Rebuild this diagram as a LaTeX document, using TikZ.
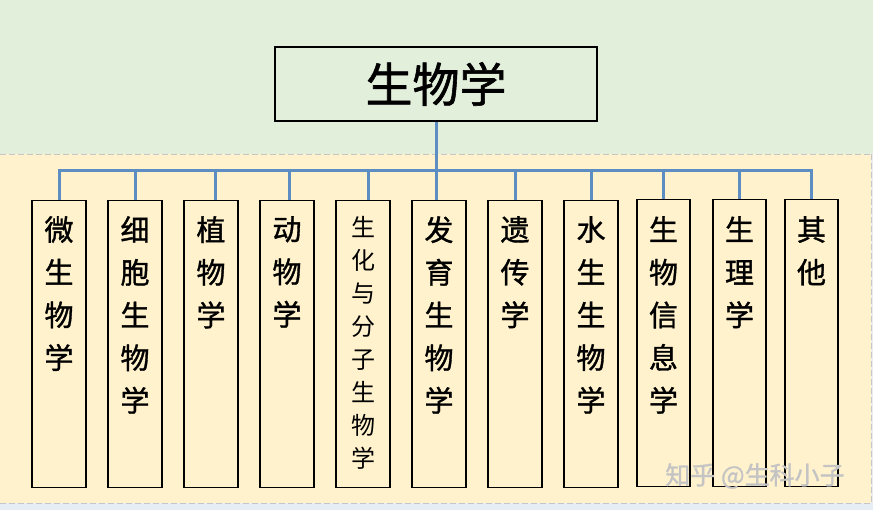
\documentclass[tikz,border=0pt]{standalone}
\usepackage{fontspec}
\setmainfont{Noto Sans CJK SC}[FakeBold=1.2]
\newfontfamily\plaincjk{Noto Sans CJK SC}
\definecolor{bandgreen}{HTML}{E2EFDA}
\definecolor{bandyellow}{HTML}{FFF2CC}
\definecolor{bandblue}{HTML}{E6EDF5}
\definecolor{conncol}{RGB}{92,142,196}
\definecolor{markgray}{HTML}{C4C4C4}
\tikzset{
  subject/.style={draw=black, line width=1.1pt, minimum width=54pt, minimum height=287pt, inner sep=0pt, anchor=north},
  subjtext/.style={anchor=north, align=center, inner sep=0pt, font=\fontsize{29}{42.7}\selectfont},
  smalltext/.style={anchor=north, align=center, inner sep=0pt, font=\plaincjk\fontsize{24}{33}\selectfont},
  conn/.style={draw=conncol, line width=3pt},
  sep/.style={draw=gray!45, dash pattern=on 6pt off 3pt, line width=0.9pt}
}
\begin{document}
\begin{tikzpicture}[x=1pt,y=-1pt]
\useasboundingbox (0,0) rectangle (873,510);
% bands
\fill[bandgreen] (0,0) rectangle (873,154);
\fill[bandyellow] (0,154) rectangle (871,503);
\fill[bandblue] (0,503) rectangle (873,510);
\fill[gray!15] (871,154) rectangle (873,503);
\draw[sep] (0,154) -- (871,154);
\draw[sep] (0,503) -- (871,503);
\draw[sep] (871,154) -- (871,503);
% title
\node[draw=black, line width=1.1pt, fill=bandgreen, minimum width=322pt, minimum height=74pt, inner sep=0pt, font=\fontsize{47}{50}\selectfont] (top) at (436,84) {生物学};
% subject boxes
\node[subject] (b1) at (59,200) {};
\node[subject] (b2) at (135,200) {};
\node[subject] (b3) at (211,200) {};
\node[subject] (b4) at (287,200) {};
\node[subject] (b5) at (363,200) {};
\node[subject] (b6) at (439,200) {};
\node[subject] (b7) at (515,200) {};
\node[subject] (b8) at (591,200) {};
\node[subject, minimum width=53pt] (b9) at (663.5,199) {};
\node[subject, minimum width=53pt] (b10) at (739.5,199) {};
\node[subject, minimum width=53pt] (b11) at (811.5,199) {};
% texts
\node[subjtext] (t1) at (59,216) {微\\生\\物\\学};
\node[subjtext] (t2) at (135,216) {细\\胞\\生\\物\\学};
\node[subjtext] (t3) at (211,216) {植\\物\\学};
\node[subjtext] (t4) at (287,216) {动\\物\\学};
\node[smalltext] (t5) at (363,216) {生\\化\\与\\分\\子\\生\\物\\学};
\node[subjtext] (t6) at (439,216) {发\\育\\生\\物\\学};
\node[subjtext] (t7) at (515,216) {遗\\传\\学};
\node[subjtext] (t8) at (591,216) {水\\生\\生\\物\\学};
\node[subjtext] (t9) at (663.5,216) {生\\物\\信\\息\\学};
\node[subjtext] (t10) at (739.5,216) {生\\理\\学};
\node[subjtext] (t11) at (811.5,216) {其\\他};
% connectors
\coordinate (bus) at (0,171);
\draw[conn] (b1.north) |- (bus -| b11.north) -- (b11.north);
\draw[conn] (top.south) -- (top.south |- b6.north);
\draw[conn] (b2.north) -- (b2.north |- bus);
\draw[conn] ([xshift=4pt]b3.north) -- ([xshift=4pt]b3.north |- bus);
\draw[conn] ([xshift=2pt]b4.north) -- ([xshift=2pt]b4.north |- bus);
\draw[conn] ([xshift=5pt]b5.north) -- ([xshift=5pt]b5.north |- bus);
\draw[conn] (b7.north) -- (b7.north |- bus);
\draw[conn] (b8.north) -- (b8.north |- bus);
\draw[conn] (b9.north) -- (b9.north |- bus);
\draw[conn] (b10.north) -- (b10.north |- bus);
% watermark
\node[text=markgray, font=\fontsize{25}{27}\selectfont, inner sep=0pt] (mark) at (755,476) {知乎 @生科小子};
\end{tikzpicture}
\end{document}
